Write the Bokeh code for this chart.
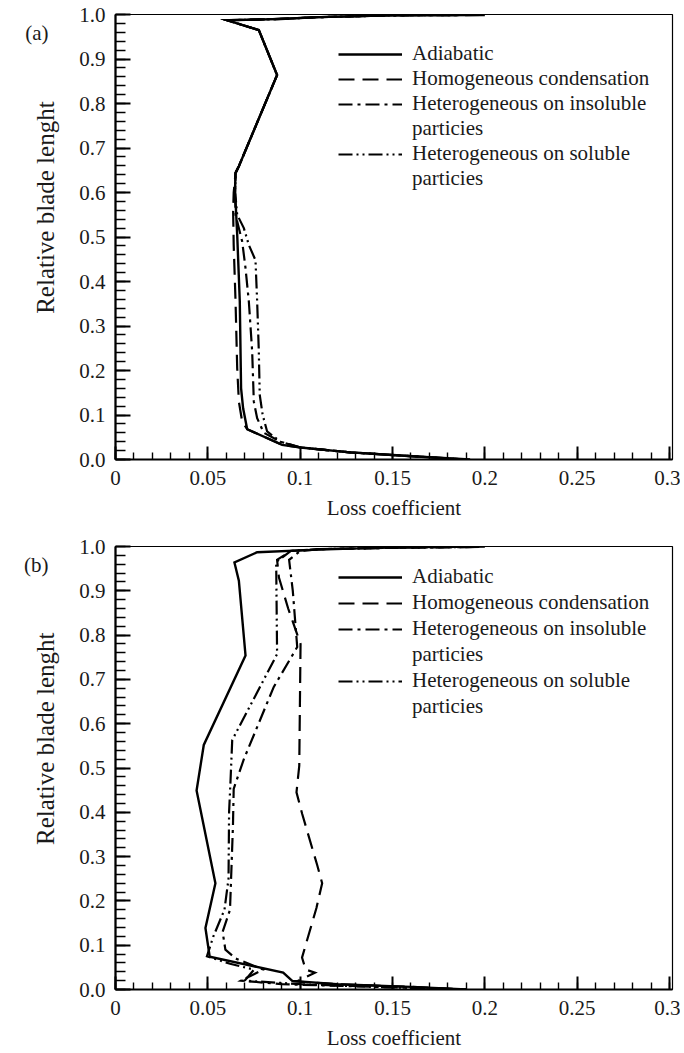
import numpy as np
from bokeh.plotting import figure
from bokeh.models import Range1d, FixedTicker, Legend, LegendItem, LinearAxis
from bokeh.layouts import column
from bokeh.embed import file_html
from bokeh.resources import INLINE

FONT = "Times New Roman"

series_names = ["Adiabatic", "Homogeneous condensation",
                "Heterogeneous on insoluble", "Heterogeneous on soluble"]
second_line = "particies"
x_title = "Loss coefficient"
y_title = "Relative blade lenght"

x_tick_values = [0, 0.05, 0.1, 0.15, 0.2, 0.25, 0.3]
x_tick_labels = ["0", "0.05", "0.1", "0.15", "0.2", "0.25", "0.3"]
y_tick_values = [0.0, 0.1, 0.2, 0.3, 0.4, 0.5, 0.6, 0.7, 0.8, 0.9, 1.0]
y_tick_labels = ["0.0", "0.1", "0.2", "0.3", "0.4", "0.5", "0.6", "0.7", "0.8", "0.9", "1.0"]
panel_tags = ["(a)", "(b)"]
tag_level = 0.958
y_title_level = 0.566

# ---------------- panel (a) ----------------
a_adiabatic_x = [0.200, 0.150, 0.110, 0.0893, 0.0605, 0.0776, 0.0875, 0.0668, 0.0650, 0.0646, 0.0650,
                 0.0659, 0.0673, 0.0680, 0.0691, 0.0713, 0.0902, 0.1002, 0.1270, 0.150, 0.170, 0.192]
a_adiabatic_y = [0.999, 0.998, 0.994, 0.990, 0.987, 0.965, 0.864, 0.659, 0.644, 0.592, 0.580,
                 0.505, 0.355, 0.160, 0.115, 0.068, 0.033, 0.027, 0.016, 0.010, 0.005, 0.000]

a_homog_x = [0.198, 0.150, 0.110, 0.0893, 0.0605, 0.0776, 0.0875, 0.0668, 0.0650, 0.0640, 0.0637,
             0.0640, 0.0650, 0.0659, 0.0668, 0.0686, 0.0713, 0.0902, 0.1002, 0.127, 0.150, 0.170, 0.190]
a_homog_y = [0.999, 0.998, 0.994, 0.990, 0.987, 0.965, 0.864, 0.659, 0.644, 0.600, 0.557,
             0.482, 0.355, 0.205, 0.130, 0.085, 0.068, 0.033, 0.027, 0.016, 0.010, 0.005, 0.000]

a_insol_x = [0.196, 0.150, 0.110, 0.0893, 0.0605, 0.0776, 0.0875, 0.0668, 0.0650, 0.0648, 0.0650,
             0.0686, 0.0704, 0.0722, 0.0740, 0.0749, 0.0767, 0.0803, 0.0893, 0.1002, 0.127, 0.150, 0.170, 0.190]
a_insol_y = [0.999, 0.998, 0.994, 0.990, 0.987, 0.965, 0.864, 0.659, 0.644, 0.600, 0.550,
             0.490, 0.430, 0.355, 0.243, 0.130, 0.093, 0.060, 0.040, 0.027, 0.016, 0.010, 0.005, 0.000]

a_sol_x = [0.194, 0.150, 0.110, 0.0893, 0.0605, 0.0776, 0.0875, 0.0668, 0.0650, 0.0648, 0.0659,
           0.0695, 0.0722, 0.0758, 0.0767, 0.0776, 0.0781, 0.0797, 0.0821, 0.0893, 0.1002, 0.127, 0.150, 0.170, 0.190]
a_sol_y = [0.999, 0.998, 0.994, 0.990, 0.987, 0.965, 0.864, 0.659, 0.644, 0.600, 0.550,
           0.520, 0.482, 0.448, 0.355, 0.243, 0.145, 0.100, 0.063, 0.040, 0.027, 0.016, 0.010, 0.005, 0.000]

# ---------------- panel (b) ----------------
b_adiabatic_x = [0.200, 0.150, 0.110, 0.0767, 0.0644, 0.0668, 0.0704, 0.0478, 0.0439, 0.0541, 0.0487,
                 0.0510, 0.0908, 0.0957, 0.1200, 0.1600, 0.1900]
b_adiabatic_y = [1.000, 0.998, 0.993, 0.987, 0.964, 0.923, 0.754, 0.552, 0.449, 0.240, 0.139,
                 0.074, 0.038, 0.0195, 0.012, 0.006, 0.000]

b_homog_x = [0.195, 0.150, 0.110, 0.0950, 0.0875, 0.0885, 0.0935, 0.1002, 0.0995, 0.0980, 0.1011,
             0.1092, 0.1119, 0.1088, 0.1010, 0.1030, 0.1080, 0.0980, 0.1200, 0.1600, 0.1900]
b_homog_y = [0.999, 0.997, 0.994, 0.990, 0.970, 0.930, 0.860, 0.780, 0.505, 0.445, 0.396,
             0.281, 0.240, 0.184, 0.072, 0.045, 0.038, 0.018, 0.012, 0.006, 0.000]

b_insol_x = [0.197, 0.150, 0.110, 0.1000, 0.0940, 0.0960, 0.0984, 0.0857, 0.0695, 0.0640, 0.0636,
             0.0625, 0.0620, 0.0580, 0.0595, 0.0650, 0.0800, 0.0680, 0.0900, 0.1400, 0.1900]
b_insol_y = [0.999, 0.997, 0.994, 0.990, 0.970, 0.900, 0.773, 0.683, 0.520, 0.453, 0.370,
             0.240, 0.180, 0.130, 0.090, 0.070, 0.045, 0.020, 0.012, 0.006, 0.000]

b_sol_x = [0.194, 0.150, 0.110, 0.0950, 0.0870, 0.0875, 0.0632, 0.0623, 0.0615, 0.0612, 0.0590,
           0.0530, 0.0495, 0.0620, 0.0750, 0.0700, 0.1000, 0.1400, 0.1900]
b_sol_y = [0.999, 0.997, 0.994, 0.990, 0.965, 0.757, 0.563, 0.473, 0.400, 0.250, 0.180,
           0.120, 0.075, 0.058, 0.045, 0.020, 0.012, 0.006, 0.000]

styles = [dict(line_dash="solid", line_width=2.4),
          dict(line_dash="16 8", line_width=2.2),
          dict(line_dash="14 5 3 5", line_width=2.2),
          dict(line_dash="14 4 2 4 2 4", line_width=2.2)]

TXT = "#1a1a1a"


def bare_left_axis(level, text, standoff, size, orientation="horizontal"):
    return LinearAxis(ticker=FixedTicker(ticks=[level], minor_ticks=[]),
                      major_label_overrides={level: text},
                      major_label_orientation=orientation,
                      axis_line_color=None, major_tick_line_color=None, minor_tick_line_color=None,
                      major_tick_in=0, major_tick_out=0, minor_tick_in=0, minor_tick_out=0,
                      major_label_standoff=standoff,
                      major_label_text_font=FONT, major_label_text_font_size=size,
                      major_label_text_color=TXT)


def make_panel(tag, curves, height, top, bottom, leg_y, leg_spacing):
    p = figure(width=680, height=height, x_range=Range1d(0, 0.3016), y_range=Range1d(0, 1.0),
               output_backend="svg", toolbar_location=None,
               min_border_left=115, min_border_right=8, min_border_top=top, min_border_bottom=bottom)
    p.xgrid.visible = False
    p.ygrid.visible = False
    p.outline_line_color = "black"
    p.outline_line_width = 1.2

    xa = p.xaxis[0]
    xa.ticker = FixedTicker(ticks=x_tick_values, minor_ticks=list(np.round(np.arange(0, 0.3001, 0.01), 3)))
    xa.major_label_overrides = dict(zip(x_tick_values, x_tick_labels))
    xa.major_tick_in = 13
    xa.major_tick_out = 0
    xa.minor_tick_in = 7
    xa.minor_tick_out = 0
    xa.major_label_standoff = 11
    xa.axis_label = x_title
    xa.axis_label_standoff = 8
    xa.axis_label_text_font_size = "21px"
    xa.axis_label_text_font = FONT
    xa.axis_label_text_font_style = "normal"
    xa.axis_label_text_color = TXT

    ya = p.yaxis[0]
    ya.ticker = FixedTicker(ticks=y_tick_values, minor_ticks=list(np.round(np.arange(0, 1.0001, 0.02), 3)))
    ya.major_label_overrides = dict(zip(y_tick_values, y_tick_labels))
    ya.major_tick_in = 15
    ya.major_tick_out = 0
    ya.minor_tick_in = 10
    ya.minor_tick_out = 0
    ya.major_label_standoff = 10

    for ax in (xa, ya):
        ax.axis_line_width = 2.2
        ax.axis_line_color = "black"
        ax.major_tick_line_width = 2
        ax.major_tick_line_color = "black"
        ax.minor_tick_line_width = 1.4
        ax.minor_tick_line_color = "black"
        ax.major_label_text_font = FONT
        ax.major_label_text_font_size = "21px"
        ax.major_label_text_color = TXT

    # y title placed (like the original) above the frame centre, as a rotated label of a bare axis
    p.add_layout(bare_left_axis(y_title_level, y_title, 17, "25px", "vertical"), "left")
    # panel tag "(a)"/"(b)"
    p.add_layout(bare_left_axis(tag_level, tag, -19, "21px"), "left")

    items = []
    for (cx, cy), name, st in zip(curves, series_names, styles):
        r = p.line(cx, cy, line_color="black", line_join="miter", **st)
        items.append(LegendItem(label=name, renderers=[r]))
        if name.startswith("Heterogeneous"):
            items.append(LegendItem(label=second_line, renderers=[]))

    leg = Legend(items=items, location=(223, leg_y), padding=0, margin=0, spacing=leg_spacing,
                 glyph_width=64, glyph_height=20, label_standoff=10,
                 label_text_font=FONT, label_text_font_size="21px", label_text_color=TXT,
                 label_height=20,
                 background_fill_alpha=0, border_line_alpha=0)
    p.add_layout(leg)
    return p


pa = make_panel(panel_tags[0], [(a_adiabatic_x, a_adiabatic_y), (a_homog_x, a_homog_y),
                                (a_insol_x, a_insol_y), (a_sol_x, a_sol_y)], 530, 14, 71, 268, 0)
pb = make_panel(panel_tags[1], [(b_adiabatic_x, b_adiabatic_y), (b_homog_x, b_homog_y),
                                (b_insol_x, b_insol_y), (b_sol_x, b_sol_y)], 522, 16, 60, 270, 1)

layout = column(pa, pb, spacing=0)
open("out.html", "w").write(file_html(layout, INLINE))
